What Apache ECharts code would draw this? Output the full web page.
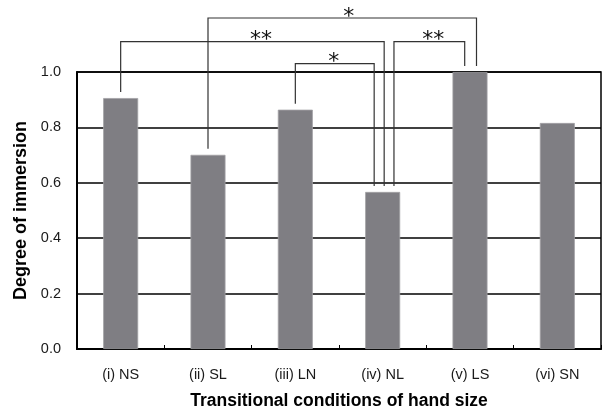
<!DOCTYPE html>
<html>
<head>
<meta charset="utf-8">
<script src="https://cdn.jsdelivr.net/npm/echarts@6/dist/echarts.min.js"></script>
<style>
  html, body { margin: 0; padding: 0; background: #fff; }
  #chart { width: 602px; height: 410px; }
</style>
</head>
<body>
<div id="chart"></div>
<script>
// Conditions on the horizontal axis
const conditions = ['(i) NS', '(ii) SL', '(iii) LN', '(iv) NL', '(v) LS', '(vi) SN'];
// Mean degree of immersion per condition
const immersion = [0.906, 0.701, 0.864, 0.567, 1.0, 0.816];
// Value-axis ticks
const yTicks = [0.0, 0.2, 0.4, 0.6, 0.8, 1.0];
// Significant pairwise differences: [from index, to index, bracket height (axis units)]
const pairs = [
  [1, 4, 1.195],
  [0, 3, 1.11],
  [2, 3, 1.03],
  [3, 4, 1.11]
];
// Significance marks, one per pair
const marks = ['*', '**', '*', '**'];

// Horizontal pixel shift of each bracket leg so that legs meeting
// on the same bar sit side by side: [left leg, right leg]
const legShift = [
  [0, 6.5],
  [0, 1.5],
  [0, -8.5],
  [11.3, -5.3]
];
// Horizontal nudge of each mark from the middle of its bracket
const markShift = [6.5, 8.5, -1, 4];
const LEG_GAP = 6;

const chart = echarts.init(document.getElementById('chart'), null, { renderer: 'canvas' });

const labelFont = 'Liberation Sans, Arial, sans-serif';

chart.setOption({
  animation: false,
  backgroundColor: '#ffffff',
  grid: {
    left: 77, right: 1, top: 72, bottom: 61,
    outerBoundsMode: 'none',
    containLabel: false,
    show: true, borderColor: '#000', borderWidth: 1.5, backgroundColor: 'transparent'
  },
  xAxis: {
    type: 'category',
    data: conditions,
    name: 'Transitional conditions of hand size',
    nameLocation: 'middle',
    nameGap: 43,
    nameTextStyle: { fontFamily: labelFont, fontWeight: 'bold', fontSize: 17.5, color: '#000' },
    axisLine: { lineStyle: { color: '#000', width: 2 } },
    axisTick: { show: true, inside: true, length: 4, lineStyle: { color: '#000', width: 1 } },
    axisLabel: { fontFamily: labelFont, fontSize: 14.5, color: '#1a1a1a', margin: 18 },
    splitLine: { show: false }
  },
  yAxis: {
    type: 'value',
    min: yTicks[0],
    max: yTicks[yTicks.length - 1],
    interval: 0.2,
    name: 'Degree of immersion',
    nameLocation: 'middle',
    nameGap: 42,
    nameTextStyle: { fontFamily: labelFont, fontWeight: 'bold', fontSize: 18, color: '#000' },
    axisLine: { show: true, lineStyle: { color: '#000', width: 2 } },
    axisTick: { show: false },
    axisLabel: {
      fontFamily: labelFont, fontSize: 14.5, color: '#1a1a1a', margin: 16,
      formatter: v => v.toFixed(1)
    },
    splitLine: { show: true, lineStyle: { color: '#000', width: 1.5 } }
  },
  series: [
    {
      type: 'bar',
      data: immersion,
      barWidth: 35,
      itemStyle: { color: '#7f7e83', borderColor: '#a2a1a5', borderWidth: 0.8 },
      z: 3
    },
    {
      type: 'custom',
      clip: false,
      z: 4,
      data: pairs,
      encode: { x: 0, y: 2 },
      renderItem: function (params, api) {
        const i = params.dataIndex;
        const a = api.value(0), b = api.value(1), level = api.value(2);
        const top = api.coord([a, level])[1];
        const pa = api.coord([a, immersion[a]]);
        const pb = api.coord([b, immersion[b]]);
        const xa = pa[0] + legShift[i][0];
        const xb = pb[0] + legShift[i][1];
        return {
          type: 'group',
          children: [
            {
              type: 'polyline',
              shape: { points: [[xa, pa[1] - LEG_GAP], [xa, top], [xb, top], [xb, pb[1] - LEG_GAP]] },
              style: { stroke: '#333', lineWidth: 1.2, fill: null }
            },
            {
              type: 'text',
              style: {
                text: marks[i],
                x: (xa + xb) / 2 + markShift[i],
                y: top - 1,
                align: 'center',
                verticalAlign: 'middle',
                font: '22px "DejaVu Sans"',
                fill: '#111'
              }
            }
          ]
        };
      }
    }
  ]
});
</script>
</body>
</html>
